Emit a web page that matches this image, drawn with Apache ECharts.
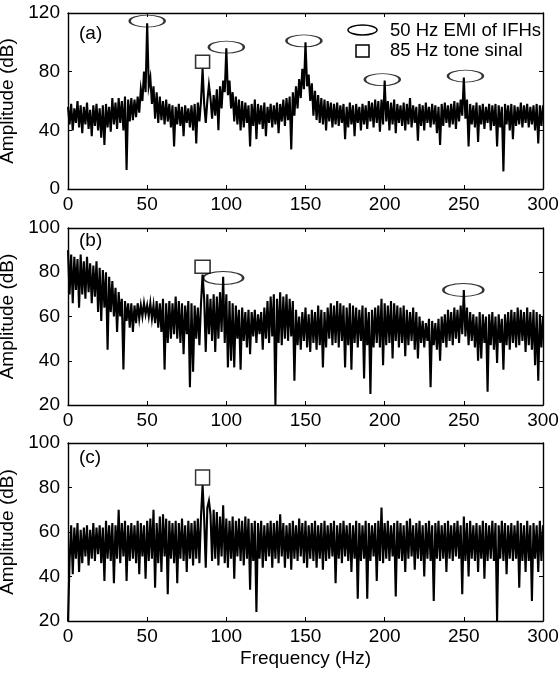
<!DOCTYPE html>
<html><head><meta charset="utf-8">
<script src="https://cdn.jsdelivr.net/npm/echarts/dist/echarts.min.js"></script>
<style>html,body{margin:0;padding:0;background:#fff}#c{width:560px;height:682px}</style>
</head><body><div id="c"></div><script>
// Frequency grid: one sample per Hz, 0..300 Hz
const freqStartHz = 0;
const freqStepHz = 1;
// Panel (a) amplitude (dB)
const ampA = [
56,44,58,40,55,45,60,42,57,38,
56,44,59,41,54,36,57,43,58,40,
55,35,57,30,58,42,56,39,62,44,
59,41,62,45,60,40,63,13,61,46,
62,47,61,49,63,52,68,60,80,66,
113,70,76,58,70,48,66,45,63,47,
60,44,61,46,58,42,57,29,56,44,
58,43,56,36,57,45,55,42,57,40,
58,31,59,46,60,82,58,45,60,71,
62,48,64,50,68,40,70,55,74,66,
96,64,74,55,66,46,63,44,61,40,
60,42,59,45,57,29,58,43,61,34,
58,44,57,41,59,36,56,45,58,42,
57,44,59,38,58,46,61,43,62,47,
63,27,66,50,70,55,75,62,82,68,
100,70,78,60,72,50,67,47,64,45,
62,44,61,40,60,46,59,42,58,44,
59,43,57,45,58,34,56,42,59,44,
57,36,58,45,56,40,58,44,57,41,
60,46,59,42,61,45,60,39,61,44,
74,46,60,40,59,44,61,38,58,45,
57,43,59,40,58,44,62,42,57,45,
56,33,58,43,57,40,59,45,56,42,
58,44,57,38,56,30,58,43,59,45,
57,42,58,44,60,41,59,46,61,50,
76,48,61,29,58,44,57,42,59,32,
57,44,58,41,56,45,58,40,57,43,
58,29,57,42,56,12,58,44,57,40,
58,34,57,43,56,44,59,42,57,45,
58,42,56,44,57,40,58,31,57,43,
57];
// Panel (b) amplitude (dB)
const ampB = [
90,70,88,66,87,72,86,64,88,70,
85,68,87,71,84,66,83,69,85,62,
82,58,81,64,80,45,78,62,76,60,
73,53,71,60,68,36,67,58,66,55,
66,53,65,57,66,59,65,60,66,61,
65,60,66,59,65,57,67,55,66,53,
68,36,66,48,67,50,66,52,69,50,
67,48,66,43,65,52,67,28,66,35,
65,50,64,47,66,79,68,44,70,52,
68,49,70,44,69,50,71,53,78,48,
70,37,67,40,66,37,65,50,63,36,
64,49,62,46,63,43,62,51,63,48,
61,52,62,45,64,50,67,48,69,51,
70,20,68,48,71,47,69,50,70,49,
68,51,67,31,63,47,60,45,62,49,
64,46,61,44,63,48,62,45,65,47,
63,37,62,46,64,50,66,47,65,48,
67,46,66,49,65,37,64,47,66,36,
65,48,64,46,63,49,65,32,64,47,
62,25,63,46,64,48,65,46,68,38,
66,47,65,48,67,41,66,49,65,46,
64,48,65,42,63,47,62,49,64,45,
62,41,60,48,58,46,57,49,59,28,
58,47,57,45,59,40,60,48,61,46,
63,49,62,47,64,50,63,48,65,52,
72,51,64,47,62,49,61,46,60,40,
62,41,61,48,60,26,61,47,62,45,
60,39,61,48,59,36,61,47,62,45,
63,48,62,46,64,47,63,49,62,44,
64,47,62,45,63,38,62,31,61,46,
60];
// Panel (c) amplitude (dB)
const ampC = [
20,47,63,41,62,48,64,42,61,46,
62,49,63,45,61,48,64,47,62,50,
63,46,62,38,65,48,63,47,64,37,
63,48,70,46,64,49,65,38,63,47,
64,48,63,46,65,41,64,49,63,39,
65,47,66,48,70,35,64,46,67,42,
68,49,66,32,65,48,64,46,65,37,
64,48,66,47,63,42,65,48,64,45,
65,48,66,46,67,81,66,44,71,74,
68,47,70,48,69,45,67,49,72,46,
66,44,65,48,67,39,65,49,66,47,
65,45,67,48,66,34,64,47,65,24,
64,48,65,44,63,47,64,49,65,44,
64,48,65,46,68,49,64,44,63,48,
64,43,65,48,63,47,66,49,64,46,
65,44,63,48,64,47,65,44,63,48,
64,43,65,47,63,48,64,49,65,37,
63,48,64,46,65,49,63,47,64,42,
63,48,65,30,64,47,63,48,65,30,
64,47,63,49,64,38,65,47,71,46,
64,48,65,47,63,49,64,31,65,48,
64,47,63,42,65,48,66,49,63,43,
64,48,65,47,63,40,64,48,65,47,
63,29,64,48,65,47,63,48,64,42,
65,48,63,47,64,49,65,48,63,32,
67,47,64,40,65,48,63,47,64,42,
63,48,65,39,64,47,63,48,65,47,
64,20,63,48,65,47,64,41,63,48,
64,47,63,48,65,35,64,47,63,42,
65,47,63,29,64,48,63,42,65,47,
63];
// Annotation markers [frequency Hz, dB]
const emiA = [[50,114.5],[100,96.7],[149,101],[198.5,74.6],[251,77]];
const toneA = [[85,86.7]];
const emiB = [[98,77.4],[249.7,72]];
const toneB = [[85,82.5]];
const emiC = [];
const toneC = [[85,84.5]];
// Axis ticks
const xTicks = [0,50,100,150,200,250,300];
const yTicksA = [0,40,80,120];
const yTicksB = [20,40,60,80,100];
const yTicksC = [20,40,60,80,100];
const panelLabels = ['(a)','(b)','(c)'];
const legendTexts = ['50 Hz EMI of IFHs','85 Hz tone sinal'];

const FONT = 'Liberation Sans, Arial, Helvetica, sans-serif';
const FS = 19;
const ellipsePath = 'path://M0,10A20,10 0 1,0 40,10A20,10 0 1,0 0,10Z';

const panels = [
  {amp: ampA, emi: emiA, tone: toneA, yt: yTicksA, top: 13, h: 176, ew: [35,12], tw: [14,13]},
  {amp: ampB, emi: emiB, tone: toneB, yt: yTicksB, top: 228, h: 177, ew: [40,13], tw: [15,13]},
  {amp: ampC, emi: emiC, tone: toneC, yt: yTicksC, top: 443, h: 178, ew: [40,13], tw: [14,15]}
];

const grid = [], xAxis = [], yAxis = [], series = [];
const axLine = {show: true, onZero: false, lineStyle: {color: '#000', width: 1.4}};
const axTick = {show: true, inside: true, length: 4, lineStyle: {color: '#000', width: 1}};
panels.forEach((p, i) => {
  grid.push({left: 68, width: 475, top: p.top, height: p.h, containLabel: false, outerBoundsMode: 'none'});
  const xi = xAxis.length, yi = yAxis.length;
  const xmin = xTicks[0], xmax = xTicks[xTicks.length-1], xint = xTicks[1]-xTicks[0];
  xAxis.push({gridIndex: i, type: 'value', position: 'bottom', min: xmin, max: xmax, interval: xint,
    axisLine: axLine, axisTick: axTick, splitLine: {show: false},
    axisLabel: {color: '#000', fontSize: FS, fontFamily: FONT, margin: 6},
    name: i === 2 ? 'Frequency (Hz)' : '', nameLocation: 'middle', nameGap: 28,
    nameTextStyle: {color: '#000', fontSize: FS, fontFamily: FONT}});
  xAxis.push({gridIndex: i, type: 'value', position: 'top', min: xmin, max: xmax, interval: xint,
    axisLine: axLine, axisTick: axTick, splitLine: {show: false}, axisLabel: {show: false}});
  const ymin = p.yt[0], ymax = p.yt[p.yt.length-1], yint = p.yt[1]-p.yt[0];
  yAxis.push({gridIndex: i, type: 'value', position: 'left', min: ymin, max: ymax, interval: yint,
    axisLine: axLine, axisTick: axTick, splitLine: {show: false},
    axisLabel: {color: '#000', fontSize: FS, fontFamily: FONT, margin: 8},
    name: 'Amplitude (dB)', nameLocation: 'middle', nameGap: 41,
    nameTextStyle: {color: '#000', fontSize: FS, fontFamily: FONT}});
  yAxis.push({gridIndex: i, type: 'value', position: 'right', min: ymin, max: ymax, interval: yint,
    axisLine: axLine, axisTick: axTick, splitLine: {show: false}, axisLabel: {show: false}});
  series.push({type: 'line', xAxisIndex: xi, yAxisIndex: yi, showSymbol: false, symbol: 'none',
    data: p.amp.map((v, k) => [freqStartHz + k*freqStepHz, v]),
    lineStyle: {color: '#000', width: 2.1, join: 'miter'}, silent: true, animation: false, z: 2});
  series.push({type: 'scatter', xAxisIndex: xi, yAxisIndex: yi, symbol: ellipsePath, symbolSize: p.ew,
    data: p.emi, itemStyle: {color: 'rgba(0,0,0,0)', borderColor: '#000', borderWidth: 1.5},
    silent: true, animation: false, z: 5});
  series.push({type: 'scatter', xAxisIndex: xi, yAxisIndex: yi, symbol: 'rect', symbolSize: p.tw,
    data: p.tone, itemStyle: {color: 'rgba(0,0,0,0)', borderColor: '#000', borderWidth: 1.5},
    silent: true, animation: false, z: 5});
});

const labelY = [34, 241, 458];
const graphic = panelLabels.map((t, i) => ({type: 'text', x: 79, y: labelY[i],
  style: {text: t, font: FS + 'px ' + FONT, fill: '#000', verticalAlign: 'middle'}, z: 10}));
graphic.push({type: 'ellipse', shape: {cx: 362.5, cy: 30, rx: 14.5, ry: 5}, style: {fill: 'none', stroke: '#000', lineWidth: 1.5}, z: 10});
graphic.push({type: 'rect', shape: {x: 356, y: 45, width: 13, height: 12}, style: {fill: 'none', stroke: '#000', lineWidth: 1.5}, z: 10});
graphic.push({type: 'text', x: 390, y: 31, style: {text: legendTexts[0], font: '18.5px ' + FONT, fill: '#000', verticalAlign: 'middle'}, z: 10});
graphic.push({type: 'text', x: 390, y: 51, style: {text: legendTexts[1], font: '18.5px ' + FONT, fill: '#000', verticalAlign: 'middle'}, z: 10});

const chart = echarts.init(document.getElementById('c'), null, {renderer: 'canvas'});
chart.setOption({animation: false, backgroundColor: '#fff', grid, xAxis, yAxis, series, graphic});
</script></body></html>
